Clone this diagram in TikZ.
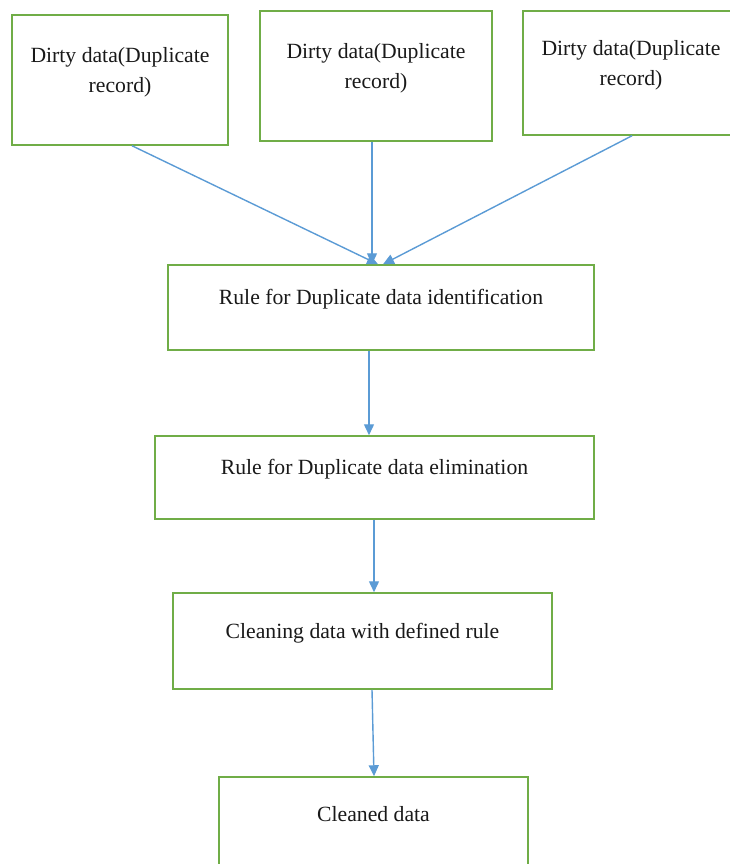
\documentclass[tikz,border=0pt]{standalone}
\usepackage{fontspec}
\setmainfont{Liberation Serif}
\usetikzlibrary{arrows.meta}
\definecolor{boxgreen}{RGB}{112,173,71}
\definecolor{flowblue}{RGB}{91,155,213}
\tikzset{
  procbox/.style = {rectangle, draw=boxgreen, line width=1.5pt, inner sep=0pt},
  boxtext/.style = {align=center, text=black!90,
    font=\fontsize{21.7}{30}\selectfont, yshift=8pt},
  flow/.style = {draw=flowblue, line width=1.4pt,
    -{Triangle[length=11pt,width=10pt]}}}

\begin{document}
\begin{tikzpicture}[x=1pt, y=-1pt]
\useasboundingbox (0,0) rectangle (729,864);

\node [procbox, minimum width=216pt, minimum height=130pt,
  label={[boxtext]center:Dirty data(Duplicate\\record)}] (dirty1) at (120,80) {};
\node [procbox, minimum width=232pt, minimum height=130pt,
  label={[boxtext]center:Dirty data(Duplicate\\record)}] (dirty2) at (376,76) {};
\node [procbox, minimum width=216pt, minimum height=124pt,
  label={[boxtext]center:Dirty data(Duplicate\\record)}] (dirty3) at (631,73) {};

\node [procbox, minimum width=426pt, minimum height=85pt,
  label={[boxtext]center:Rule for Duplicate data identification}] (ident) at (381,307.5) {};
\node [procbox, minimum width=439pt, minimum height=83pt,
  label={[boxtext]center:Rule for Duplicate data elimination}] (elim) at (374.5,477.5) {};
\node [procbox, minimum width=379pt, minimum height=96pt,
  label={[boxtext]center:Cleaning data with defined rule}] (clean) at (362.5,641) {};
\node [procbox, minimum width=309pt, minimum height=90pt,
  label={[boxtext]center:Cleaned data}] (result) at (373.5,822) {};

\draw [flow] ([xshift=12pt]dirty1.south) -- ([xshift=-3pt]ident.north);
\draw [flow] ([xshift=-4pt]dirty2.south) -- ([xshift=-9pt]ident.north);
\draw [flow] ([xshift=1pt]dirty3.south) -- ([xshift=2pt]ident.north);
\draw [flow] ([xshift=-12pt]ident.south) -- ([xshift=-5.5pt]elim.north);
\draw [flow] ([xshift=-0.5pt]elim.south) -- ([xshift=11.5pt]clean.north);
\draw [flow] ([xshift=9.5pt]clean.south) -- ([xshift=0.5pt]result.north);
\end{tikzpicture}
\end{document}
